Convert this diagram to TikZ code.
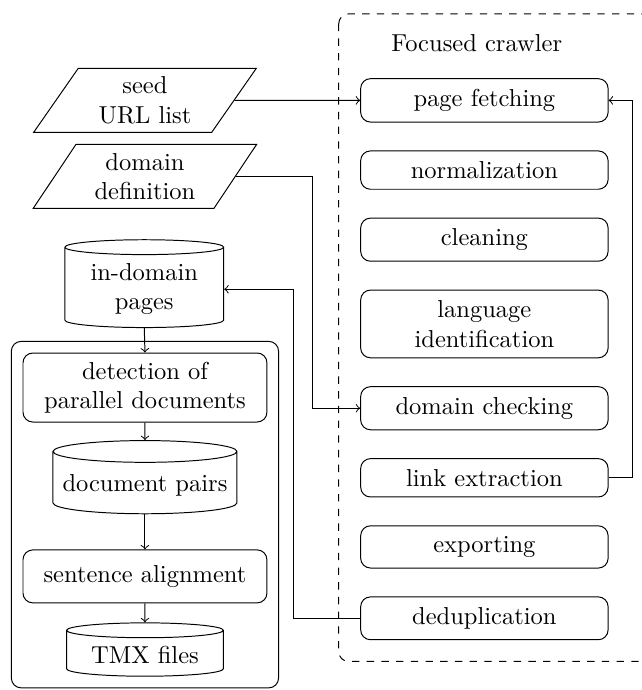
\documentclass[tikz,border=0pt]{standalone}
\usetikzlibrary{positioning,shapes.geometric,fit}
\begin{document}
\begin{tikzpicture}[x=1cm,y=1cm,line width=.4pt,node distance=.4cm,
  stage/.style={draw,rounded corners=4pt,minimum width=3.55cm,inner ysep=4.3pt,align=center},
  step box/.style={draw,rounded corners=4pt,minimum width=3.5cm,minimum height=.76cm,align=center},
  store/.style={draw,cylinder,shape border rotate=90,aspect=.12,align=center},
  input/.style={draw,trapezium,trapezium left angle=60,trapezium right angle=120,
    trapezium stretches=true,minimum width=3.21cm,minimum height=.92cm,align=center}]
  \useasboundingbox (0,0) rectangle (9.21,-9.90);
  \node (crawler) at (6.84,-.62) {Focused crawler};
  \node[stage] (fetch) at (6.95,-1.44) {page fetching};
  \node[stage,below=of fetch] (norm) {normalization};
  \node[stage,below=of norm] (clean) {cleaning};
  \node[stage,below=of clean] (lang) {language\\identification};
  \node[stage,below=of lang] (check) {domain checking};
  \node[stage,below=of check] (link) {link extraction};
  \node[stage,below=of link] (export) {exporting};
  \node[stage,below=of export] (dedup) {deduplication};
  \draw[dashed,rounded corners=4pt] (4.86,-.20) rectangle (9.45,-9.49);

  \node[input] (seed) at (2.08,-1.44) {seed\\URL list};
  \node[input] (def) at (2.08,-2.53) {domain\\definition};
  \node[store,minimum width=2.28cm,minimum height=1.26cm] (pages) at (2.07,-4.15) {in-domain\\pages};
  \node[step box,minimum height=.99cm] (detect) at (2.08,-5.56) {detection of\\parallel documents};
  \node[store,minimum width=2.64cm,minimum height=1.05cm] (pairs) at (2.08,-6.96) {document pairs};
  \node[step box] (sent) at (2.08,-8.27) {sentence alignment};
  \node[store,minimum width=2.25cm,minimum height=.75cm] (tmx) at (2.08,-9.40) {TMX files};
  \node[draw,rounded corners=4pt,inner sep=.16cm,fit=(detect)(tmx)] (align) {};

  \draw[->] (seed.east) -- (fetch.west);
  \draw[->] (def.east) -- ++(1.1,0) |- (check.west);
  \draw[->] (link.east) -- ++(.34,0) |- (fetch.east);
  \draw[->] (dedup.west) -- ++(-.96,0) |- (pages.east);
  \draw[->] (pages.south) -- (detect.north);
  \draw[->] (detect.south) -- (pairs.north);
  \draw[->] (pairs.south) -- (sent.north);
  \draw[->] (sent.south) -- (tmx.north);
\end{tikzpicture}
\end{document}
